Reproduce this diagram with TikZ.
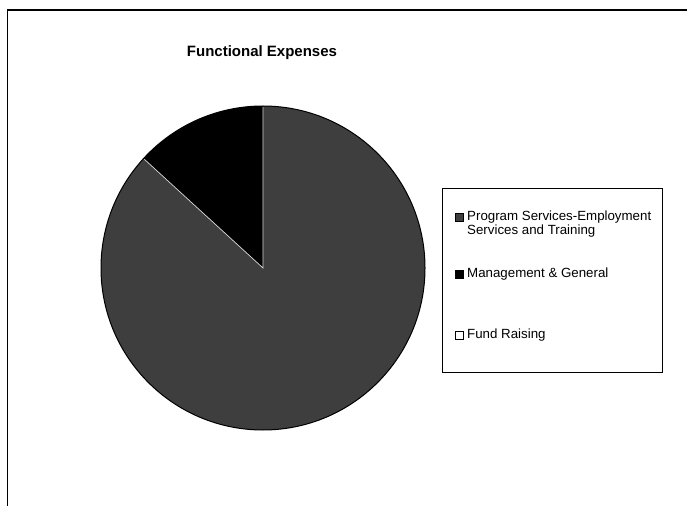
\documentclass[tikz,border=0pt]{standalone}
\usepackage{fontspec}
\setmainfont{Liberation Sans}
\definecolor{progcol}{RGB}{62,62,62}
\begin{document}
\begin{tikzpicture}[x=1bp,y=-1bp,
  frameline/.style={black},
  legtext/.style={anchor=west,inner sep=0pt,font=\fontsize{13.3bp}{13.8bp}\selectfont,align=left},
  legmark/.style={draw=black,line width=0.8bp,minimum size=8bp,inner sep=0pt},
  slicesep/.style={draw=white!85!black,line width=0.7bp}]
\useasboundingbox (0,0) rectangle (687,506);
\fill[white] (0,0) rectangle (687,506);
% outer frame (partially visible)
\draw[frameline,line width=2bp] (6.8,10) -- (687,10);
\draw[frameline,line width=1.5bp] (7.5,9) -- (7.5,506);
% title
\node[font=\bfseries\fontsize{15bp}{18bp}\selectfont,inner sep=0pt] (title) at (262,53) {Functional Expenses};
% pie
\coordinate (pc) at (263,268);
\begin{scope}[shift={(pc)},y=1bp]
  \fill[progcol] (0,0) -- (137.5:162) arc[start angle=137.5,end angle=450,radius=162] -- cycle;
  \fill[black] (0,0) -- (90:162) arc[start angle=90,end angle=137.5,radius=162] -- cycle;
  \draw[slicesep] (137.5:161) -- (0,0) -- (90:161);
  \draw[black,line width=1bp] (0,0) circle[radius=162];
\end{scope}
% legend
\node[draw=black,line width=1bp,minimum width=220bp,minimum height=183bp,inner sep=0pt] (legend) at (552,280.5) {};
\node[legmark,fill=progcol] (m1) at (459,217) {};
\node[legtext] (t1) at (467,224) {Program Services-Employment\\Services and Training};
\node[legmark,fill=black] (m2) at (459,274) {};
\node[legtext] (t2) at (467,274) {Management \& General};
\node[legmark,fill=white] (m3) at (459,335) {};
\node[legtext] (t3) at (467,335) {Fund Raising};
\end{tikzpicture}
\end{document}
